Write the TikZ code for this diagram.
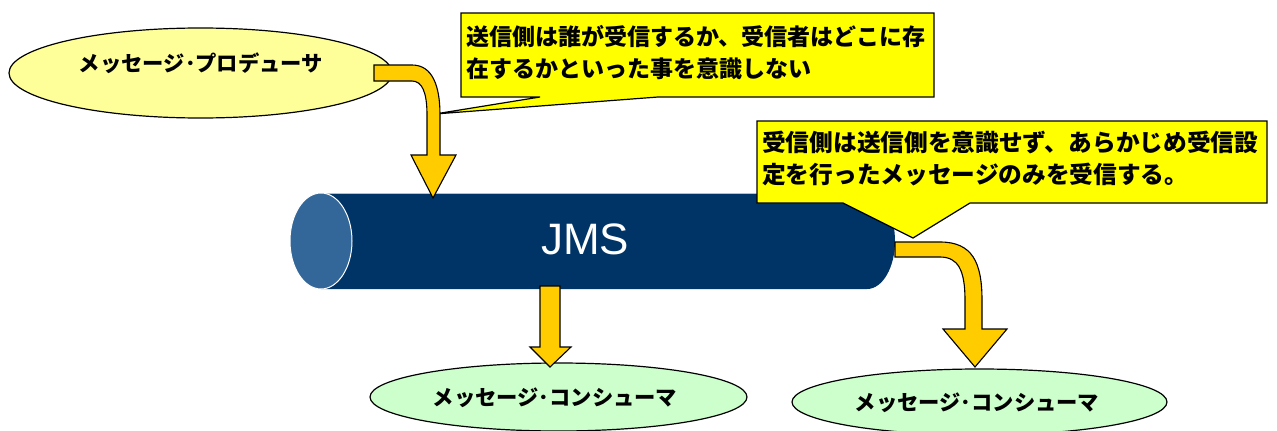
\documentclass[tikz,border=0pt]{standalone}
\usepackage{fontspec}
\usetikzlibrary{shapes.geometric}
\newfontfamily\jp{Noto Sans CJK JP}
\newfontfamily\arialf{Liberation Sans}
\definecolor{cylbody}{HTML}{003366}
\definecolor{cylface}{HTML}{336699}
\definecolor{prodfill}{HTML}{FFFF99}
\definecolor{consfill}{HTML}{CCFFCC}
\definecolor{callfill}{HTML}{FFFF00}
\definecolor{arrowfill}{HTML}{FFCC00}
\tikzset{
  ovalshape/.style={ellipse, draw=black, line width=1.2pt, inner sep=0pt},
  ovallabel/.style={font=\jp\bfseries\fontsize{21.3}{24}\selectfont, inner sep=0pt},
  callshape/.style={draw=black, fill=callfill, line width=1.2pt, line join=miter},
  calltext/.style={font=\jp\bfseries\fontsize{23}{31.5}\selectfont, align=left, inner sep=0pt, anchor=west},
  fatarrow/.style={draw=black, fill=arrowfill, line width=1.1pt, line join=miter}
}
\begin{document}
\begin{tikzpicture}[x=1pt,y=-1pt]
\useasboundingbox (0,0) rectangle (1277,431);
\fill[white] (0,0) rectangle (1277,431);

% ellipses
\node[ovalshape, fill=prodfill, minimum width=383, minimum height=90] (producer) at (200.5,73) {};
\node[ovallabel] (producerlabel) at (201,63) {メッセージ･プロデューサ};
\node[ovalshape, fill=consfill, minimum width=377, minimum height=68] (consumerA) at (558.5,397) {};
\node[ovallabel] (consumerAlabel) at (555,398) {メッセージ･コンシューマ};
\node[ovalshape, fill=consfill, minimum width=375, minimum height=66] (consumerB) at (979.5,402) {};
\node[ovallabel] (consumerBlabel) at (977,403) {メッセージ･コンシューマ};

% cylinder
\fill[cylbody] (321,193) -- (867,193) .. controls (882.5,193) and (895,214.5) .. (895,241)
  .. controls (895,267.5) and (882.5,289) .. (867,289) -- (321,289) -- cycle;
\draw[white!60!cylface, line width=0.8pt] (321,193.4) -- (867,193.4);
\node[ellipse, fill=cylface, draw=white, line width=1pt, minimum width=62, minimum height=96, inner sep=0pt] (face) at (321,241) {};
\node[font=\arialf\fontsize{44}{44}\selectfont, text=white, inner sep=0pt] (jms) at (585,239) {JMS};

% callouts
\draw[callshape] (461,13) -- (934,13) -- (934,97) -- (658,97) -- (435,114) -- (540,97) -- (461,97) -- cycle;
\node[calltext] (noteA) at (466,52.5) {送信側は誰が受信するか、受信者はどこに存\\在するかといった事を意識しない};
\draw[callshape] (757,121) -- (1267,121) -- (1267,203) -- (970,203) -- (913,238) -- (843,203) -- (757,203) -- cycle;
\node[calltext, font=\jp\bfseries\fontsize{23.7}{32}\selectfont] (noteB) at (762,159) {受信側は送信側を意識せず、あらかじめ受信設\\定を行ったメッセージのみを受信する。};

% arrows
\draw[fatarrow] (374,65) -- (412,65) .. controls (432,65) and (440,85) .. (440,115) -- (440,155)
  -- (456,155) -- (433,198) -- (411,155) -- (427,155) -- (427,115)
  .. controls (427,92) and (422,81) .. (412,81) -- (374,81) -- cycle;
\draw[fatarrow] (540,286) -- (560,286) -- (560,347) -- (571,347) -- (550,367) -- (530,347) -- (540,347) -- cycle;
\draw[fatarrow] (895,242) -- (940,242) .. controls (972,242) and (982,262) .. (982,300) -- (982,329)
  -- (1007,329) -- (975,367) -- (943,329) -- (965,329) -- (965,300)
  .. controls (965,270) and (958,257) .. (940,257) -- (895,257) -- cycle;
\end{tikzpicture}
\end{document}
